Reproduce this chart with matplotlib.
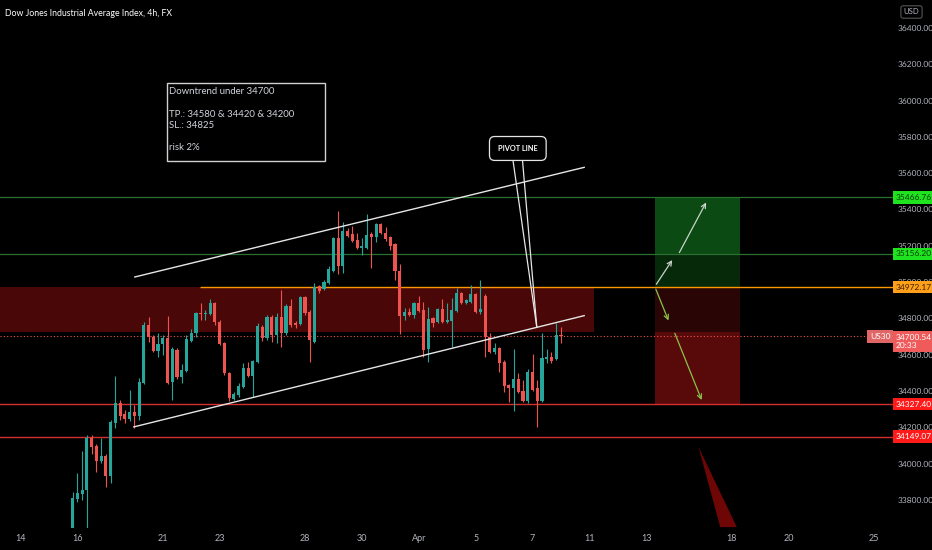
import numpy as np
import matplotlib
matplotlib.use("Agg")
import matplotlib.pyplot as plt
import matplotlib.transforms as mtransforms
from matplotlib.patches import Rectangle, Polygon

# ---------------- data: 4h candles, US30 ----------------
opens = [33645, 33805, 33832, 33854, 34141, 34097, 34014, 34042, 33932, 34224,
         34334, 34273, 34246, 34284, 34262, 34444, 34764, 34697, 34620, 34659,
         34692, 34449, 34626, 34477, 34510, 34675, 34720, 34830, 34824, 34824,
         34885, 34780, 34664, 34499, 34356, 34378, 34422, 34527, 34483, 34560,
         34753, 34692, 34808, 34708, 34808, 34720, 34868, 34775, 34769, 34918,
         34835, 34670, 34978, 34962, 34995, 35061, 35243, 35089, 35281, 35265,
         35232, 35188, 35188, 35265, 35248, 35320, 35270, 35248, 35210, 35061,
         34813, 34835, 34819, 34885, 34846, 34631, 34802, 34780, 34852, 34780,
         34786, 34841, 34940, 34885, 34890, 34934, 34835, 34923, 34697, 34615,
         34637, 34560, 34433, 34416, 34466, 34400, 34345, 34505, 34416, 34345,
         34576, 34587, 34576, 34708]
highs = [33843, 33948, 34069, 34158, 34158, 34108, 34141, 34053, 34240, 34483,
         34350, 34295, 34405, 34323, 34472, 34780, 34808, 34708, 34720, 34708,
         34813, 34642, 34637, 34549, 34708, 34742, 34835, 34885, 34846, 34907,
         34890, 34791, 34670, 34505, 34394, 34444, 34554, 34560, 34571, 34775,
         34764, 34819, 34819, 34830, 34956, 34879, 34907, 34786, 34923, 34923,
         34846, 34995, 34984, 35012, 35089, 35248, 35392, 35331, 35298, 35309,
         35270, 35243, 35375, 35276, 35326, 35326, 35304, 35254, 35215, 35100,
         34857, 34857, 34890, 34923, 34890, 34863, 34808, 34857, 34907, 34885,
         34912, 34967, 34945, 34907, 34984, 34940, 35012, 34934, 34720, 34664,
         34642, 34571, 34438, 34631, 34499, 34460, 34521, 34604, 34460, 34720,
         34631, 34615, 34775, 34753]
lows = [33640, 33788, 33799, 33645, 34053, 33954, 34003, 33871, 33893, 34196,
        34240, 34224, 34235, 34196, 34240, 34438, 34670, 34615, 34587, 34598,
        34438, 34350, 34466, 34444, 34505, 34670, 34697, 34791, 34791, 34819,
        34764, 34653, 34488, 34345, 34350, 34367, 34416, 34477, 34367, 34554,
        34675, 34681, 34670, 34664, 34642, 34708, 34753, 34747, 34764, 34819,
        34560, 34664, 34940, 34956, 34989, 35056, 35045, 35050, 35248, 35221,
        35182, 35149, 35182, 35078, 35221, 35265, 35226, 35177, 35012, 34714,
        34791, 34813, 34802, 34835, 34587, 34560, 34753, 34775, 34775, 34775,
        34642, 34835, 34879, 34879, 34885, 34830, 34824, 34587, 34609, 34604,
        34505, 34394, 34339, 34290, 34389, 34339, 34334, 34400, 34202, 34339,
        34554, 34554, 34571, 34664]
closes = [33810, 33838, 33854, 34141, 34091, 34014, 34042, 33932, 34229, 34334,
          34262, 34246, 34284, 34262, 34449, 34764, 34697, 34620, 34659, 34692,
          34444, 34631, 34477, 34516, 34686, 34720, 34830, 34824, 34830, 34885,
          34780, 34659, 34499, 34361, 34383, 34427, 34527, 34483, 34565, 34758,
          34692, 34808, 34708, 34808, 34720, 34868, 34764, 34764, 34918, 34830,
          34681, 34973, 34951, 35001, 35072, 35243, 35089, 35281, 35254, 35226,
          35188, 35199, 35259, 35248, 35320, 35270, 35237, 35199, 35061, 34813,
          34835, 34819, 34885, 34841, 34626, 34797, 34775, 34852, 34780, 34791,
          34846, 34940, 34885, 34901, 34934, 34835, 34852, 34697, 34615, 34637,
          34554, 34427, 34416, 34466, 34394, 34345, 34505, 34405, 34345, 34582,
          34587, 34565, 34708, 34700.54]

# x axis: trading-day index counted from Mar 14, 6 bars per day
date_labels = ['14', '16', '21', '23', '28', '30', 'Apr', '5', '7', '11', '13', '18', '20', '25']
date_days = [0, 2, 5, 7, 10, 12, 14, 16, 18, 20, 22, 25, 27, 30]
bars_per_day = 6
price_ticks = list(range(33800, 36401, 200))

# horizontal levels
green_levels = [35466.76, 35156.20]
orange_level = 34972.17
red_levels = [34327.40, 34149.07]
last_price = 34700.54
zone_bottom = 34725

# drawings (bar index, price)
upper_channel = [(13.1, 35028), (107.9, 35632)]
lower_channel = [(12.9, 34202), (107.9, 34815)]
pivot_box = (93.9, 35736)
pivot_tail = [(92.9, 35667), (94.9, 35667)]
pivot_tip = (97.9, 34752)
box_x = (122.8, 140.8)
up_arrows = [((122.8, 34975), (126.8, 35134)), ((127.7, 35149), (133.9, 35452))]
down_arrows = [((122.8, 34975), (125.9, 34774)), ((126.8, 34732), (132.9, 34336))]
wedge = [(132.0, 34093), (136.6, 33650), (140.1, 33650)]
note_box = [(19.9, 35667), (53.2, 36097)]
note_text = "Downtrend under 34700\n\nTP.: 34580 & 34420 & 34200\nSL.: 34825\n\nrisk 2%"

# ---------------- figure ----------------
plt.rcParams['font.family'] = ['Lato', 'DejaVu Sans']
GREEN = '#26a69a'
RED = '#ef5350'
AXIS_TXT = '#b2b5be'

fig = plt.figure(figsize=(9.32, 5.5), dpi=100, facecolor='black')
ax = fig.add_axes([0, 22 / 550, 893 / 932, 528 / 550])
ax.set_facecolor('black')
ax.set_xlim(-15.34, 173.05)
ax.set_ylim(33645, 36554)
for s in ax.spines.values():
    s.set_visible(False)

xs = np.arange(len(opens))
o = np.array(opens, float)
h = np.array(highs, float)
l = np.array(lows, float)
c = np.array(closes, float)
cols = np.where(c >= o, GREEN, RED)

# zone + levels
x0, x1 = ax.get_xlim()
ax.add_patch(Rectangle((x0, zone_bottom), 110.0 - x0, orange_level - zone_bottom,
                       fc='#4a0707', ec='none', zorder=1))
for lv in green_levels:
    ax.axhline(lv, color='#2a7030', lw=0.9, zorder=1.5)
for lv in red_levels:
    ax.axhline(lv, color='#d32f2f', lw=1.0, zorder=1.5)
ax.hlines(orange_level, 26.9, x1, color='#ff9800', lw=1.0, zorder=1.5)
ax.axhline(last_price, color=RED, lw=0.8, ls=(0, (1, 2)), zorder=1.5)

# position boxes
bw = box_x[1] - box_x[0]
ax.add_patch(Rectangle((box_x[0], green_levels[1]), bw, green_levels[0] - green_levels[1],
                       fc='#0b4a12', ec='none', zorder=1))
ax.add_patch(Rectangle((box_x[0], orange_level), bw, green_levels[1] - orange_level,
                       fc='#06290a', ec='none', zorder=1))
ax.add_patch(Rectangle((box_x[0], zone_bottom), bw, orange_level - zone_bottom,
                       fc='#2a0505', ec='none', zorder=1))
ax.add_patch(Rectangle((box_x[0], red_levels[0]), bw, zone_bottom - red_levels[0],
                       fc='#580909', ec='none', zorder=1))

# candles
ax.vlines(xs, l, h, colors=cols, lw=0.8, zorder=3)
body = np.maximum(np.abs(c - o), 5)
ax.bar(xs, body, bottom=np.minimum(o, c), width=0.66, color=cols, lw=0, zorder=4)

# channel
for line in (upper_channel, lower_channel):
    ax.plot([p[0] for p in line], [p[1] for p in line], color='#e6e6e6', lw=1.0, zorder=5)

# pivot callout
for p in pivot_tail:
    ax.plot([p[0], pivot_tip[0]], [p[1], pivot_tip[1]], color='#e6e6e6', lw=0.9, zorder=5)
ax.text(pivot_box[0], pivot_box[1], 'PIVOT LINE', color='white', fontsize=5.3,
        fontweight='bold', ha='center', va='center', zorder=6,
        bbox=dict(boxstyle='round,pad=1.15,rounding_size=0.7', fc='black', ec='#e6e6e6', lw=0.9))

# arrows
for a, b in up_arrows:
    ax.annotate('', xy=b, xytext=a, zorder=6,
                arrowprops=dict(arrowstyle='->', color='#c9d3c9', lw=0.9, mutation_scale=8))
for a, b in down_arrows:
    ax.annotate('', xy=b, xytext=a, zorder=6,
                arrowprops=dict(arrowstyle='->', color='#8bc34a', lw=0.9, mutation_scale=8))

ax.add_patch(Polygon(wedge, closed=True, fc='#6e0606', ec='none', zorder=2))

# note box
(nx0, ny0), (nx1, ny1) = note_box
ax.add_patch(Rectangle((nx0, ny0), nx1 - nx0, ny1 - ny0, fc='black', ec='#d0d0d0', lw=1.0, zorder=6))
ax.text(nx0 + 0.5, ny1 - 22, note_text, color='#d1d4dc', fontsize=6.9, ha='left', va='top',
        linespacing=1.33, zorder=7)

# axes ticks
ax.set_xticks([bars_per_day * d - 11 for d in date_days])
ax.set_xticklabels(date_labels)
ax.yaxis.tick_right()
ax.set_yticks(price_ticks)
ax.set_yticklabels([f'{t:.2f}' for t in price_ticks])
ax.tick_params(axis='x', length=0, pad=4, labelsize=6.5, labelcolor=AXIS_TXT)
ax.tick_params(axis='y', length=0, pad=3, labelsize=6.0, labelcolor=AXIS_TXT)

# price tags on the right scale
tr = mtransforms.blended_transform_factory(ax.transAxes, ax.transData)


def tag(price, text, fc, tc, dy=0, x=1.003, ha='left'):
    t = mtransforms.offset_copy(tr, fig=fig, y=dy, units='dots')
    ax.text(x, price, text, transform=t, ha=ha, va='center', fontsize=6.0, color=tc,
            linespacing=1.15, clip_on=False, zorder=20,
            bbox=dict(boxstyle='square,pad=0.32', fc=fc, ec='none'))


tag(green_levels[0], '35466.76', '#1ee31e', '#0a3a0a')
tag(green_levels[1], '35156.20', '#1ee31e', '#0a3a0a')
tag(orange_level, '34972.17', '#ff9f1a', '#3a2000')
tag(last_price, '34700.54\n20:33', '#ef5b5b', 'white', dy=-5)
tag(last_price, 'US30', '#e06666', 'white', x=0.997, ha='right')
tag(red_levels[0], '34327.40', '#ff1a1a', 'white')
tag(red_levels[1], '34149.07', '#ff1a1a', 'white')

fig.text(0.005, 1 - 13 / 550, 'Dow Jones Industrial Average Index, 4h, FX', color='white',
         fontsize=6.3, ha='left', va='center')
fig.text(0.978, 1 - 12 / 550, 'USD', color=AXIS_TXT, fontsize=5.6, ha='center', va='center',
         bbox=dict(boxstyle='round,pad=0.35,rounding_size=0.3', fc='black', ec='#555555', lw=0.8))

fig.savefig('out.png', dpi=100, facecolor='black')
